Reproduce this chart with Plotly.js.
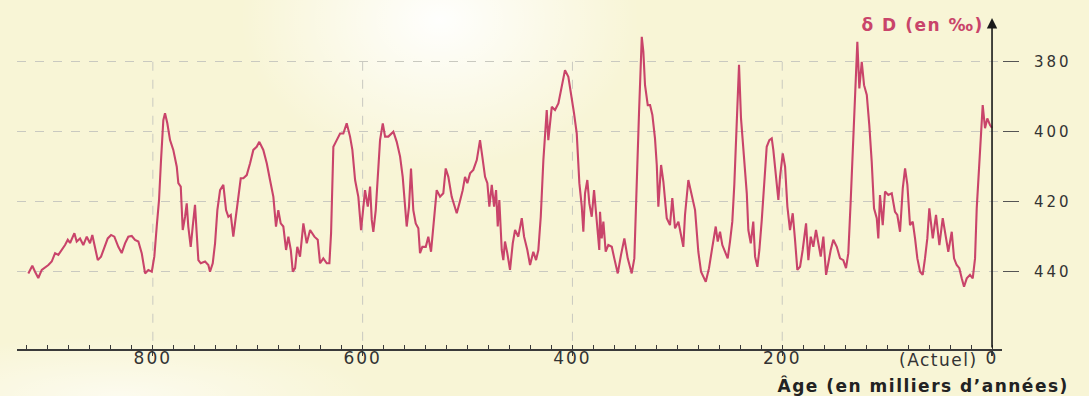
<!DOCTYPE html>
<html><head><meta charset="utf-8">
<script src="https://cdn.plot.ly/plotly-3.0.1.min.js"></script>
<style>
html,body{margin:0;padding:0;width:1089px;height:396px;overflow:hidden;}
body{background:
 radial-gradient(ellipse 200px 150px at 440px 20px, rgba(255,255,255,0.95), rgba(255,255,255,0)),
 radial-gradient(ellipse 260px 60px at 120px 396px, rgba(255,255,255,0.6), rgba(255,255,255,0)),
 #f8f5d6;}
#chart{width:1089px;height:396px;}
.xtick text{letter-spacing:2px;}
.ytick text{letter-spacing:3px;}
.annotation text{letter-spacing:1.5px;}
</style></head>
<body><div id="chart"></div>
<script>
// Age (thousands of years before present) and deltaD (per mil, shown without sign as in the figure)
const ageKyr=[918.7,914.9,912.3,909.2,905.9,902.8,899.6,896.4,893.2,890.1,886.8,883.7,881.1,878.9,874.8,872.6,869.4,866.3,863,859.9,857.7,855.1,852.5,849.4,846.2,843,839.8,836.7,832.9,829.7,826.5,823.4,820.1,817,813.8,810.6,807.4,804.3,801,798.6,796.3,794.1,792.2,790,
788.4,786.2,783.6,780.5,777.2,775.7,773.4,771.5,769.3,767.7,766.2,763.9,762,759.8,758.2,756.6,754.3,750.2,747.1,745.5,742.9,740.7,738.5,735.9,732.8,730.2,728,725.7,723.3,720.7,718.5,716.2,713.7,710.5,707.3,704.2,701,698.5,694.7,691.4,688.3,685.1,682.6,680.4,678.1,675.6,673,670.8,668.5,666.6,664.4,662.3,659.7,656.5,653.3,650.1,
646,642.8,640.6,637.5,634.2,631.7,630.1,627.9,624.7,621.5,618.4,615.2,612,609.8,607.2,604.1,601.5,599.3,597.7,595.1,592.9,591.3,589.8,587.5,585,583.4,580.8,578.6,575.5,570.7,567.5,564.3,561.8,559.6,558,555.8,553.9,551.7,549.4,546.9,545.3,543.1,539.8,537.4,534.8,532.6,529.4,526.2,523.1,520.8,518.3,515.1,
510.3,507.8,504.6,502.4,500.2,497.6,494.5,491.2,488.1,485.9,483.3,481.1,479.2,476.9,474.7,472.8,471.2,469.7,467.4,465.9,464.3,462.1,459.5,456.9,454.7,451.6,448.3,446.1,443,440.4,437.3,434.7,432.5,430.2,427.7,424.5,423,419.7,416.6,413.4,410.2,407.1,403.9,400.7,398.5,395.9,393.4,391.1,389.6,388,385.8,383.9,381.6,379.4,376.8,374.4,
373.7,372.1,370.5,368.3,365.8,362.5,360.1,356.8,353.7,350.5,347.3,343.5,341,338.7,336.5,333.9,332.4,330.8,328.2,326,323.8,321.3,319.6,318.1,315.5,313.3,311.7,310.1,307,304.8,302.2,299,296.5,294.3,292.7,289.5,286.3,283.1,280,277.4,272.9,269.8,266.6,263.4,261.5,259.3,257.1,254.5,252,249.8,247.6,245.7,243.4,241.2,239.3,237.1,
236.4,233.8,232.3,230,227.6,225.9,223.7,221.8,219.5,217.4,214.8,212.3,210,208.5,205.9,203.7,202.1,199.5,197.3,195.1,192.6,190,187.8,185.6,183,180.5,177.3,175.1,172.8,170.4,167.8,165.6,163.3,160.8,158.2,156.1,153.8,151.3,148,144.9,141.8,139.2,137,134.7,132.2,129.6,
128.4,126.5,124.2,122,119.4,117,114.7,112.5,109.9,108.4,106.8,104.2,102,98.9,95.6,92.5,90.3,87.7,85.1,82.9,80.7,78.2,75.6,73.4,71.2,68.6,66.1,63.9,61.7,59.8,56.5,53.4,50.2,47,43.9,41.7,38.4,36.2,33.7,31.2,28.9,26.7,24.1,21,18.4,16.2,14.6,12.1,8.9,6.7,4.5,1.9,0];

const deltaD=[440.5,438.3,440,441.8,439.5,438.9,438.1,437.1,434.7,435.2,433.8,432.4,430.9,431.8,429,431.4,430.5,432.4,430,431.9,429.5,432.9,436.7,435.7,432.9,430.5,429.5,430,432.9,434.7,431.9,430,429.8,430.9,431.4,434.7,440.5,439.5,440,435.7,427.1,419.5,408.1,396.7,
394.7,397.6,402.4,405.2,410,414.7,415.7,428.1,424.3,420.5,427.1,432.9,427.1,420.9,429,436.7,437.6,437.1,438.1,440,437.6,431.9,422.4,416.7,415.2,422.4,424.3,423.8,430,424.3,418.6,413.3,413.3,412.4,409,405.2,404.3,402.9,405.2,409,413.8,418.6,427.1,422.4,426.2,427.1,433.8,430,433.8,440,439,432.9,435.7,426.2,431.9,428.1,
430,430.9,437.6,436.2,437.6,437.6,429,404.3,402.4,400.5,400.5,397.6,401.4,405.2,413.8,418.6,428.1,422.4,416.7,421.4,415.7,425.2,428.6,422.4,410,402.4,397.6,401.4,401.4,400,402.9,407.1,412.9,421.4,427.1,421.4,410.5,422.4,426.2,427.6,434.7,432.9,432.9,430,434.3,427.1,416.7,418.6,417.6,410.5,412.9,418.6,
423.3,420.5,416.7,412.9,414.7,411.9,410.9,408.1,402.4,407.1,412.9,414.7,421.4,415.2,421.4,416.7,427.1,419.5,433.8,436.7,431.4,434.7,439.5,431.9,428.1,430,424.7,430,433.8,438.1,434.3,436.7,433.8,424.3,408.1,393.8,402.4,392.9,393.8,391.9,387.1,382.4,384.3,390,394.7,400.5,414.7,421.4,428.6,417.6,413.8,420.5,424.3,416.7,427.1,433.8,
422.9,430.5,425.7,434.3,432.4,432.9,436.2,440.5,435.2,430.5,436.2,440.5,436.2,412.4,394.3,372.9,377.1,386.7,392.4,392.4,395.2,401.9,409.5,421.4,409.5,414.3,420.9,424.7,426.7,419,427.6,425.7,429.5,432.9,423.8,413.8,418.1,422.4,434.3,440,442.9,439,432.9,427.1,431.4,428.6,432.4,434.3,436.2,431.4,425.7,415.2,398.1,380.9,396.2,405.7,
409,417.6,428.1,431.9,425.7,435.7,438.6,433.8,425.2,414.7,404.3,402.4,401.9,405.2,412.9,419.5,412.9,406.2,410,421.4,428.1,423.3,430.9,439.5,438.6,433.8,426.2,436.7,430,432.9,428.1,431.9,435.7,430,440.9,437.6,433.8,430.9,432.9,436.2,436.7,439,434.7,419.5,401.4,384.3,
374.3,387.6,380,386.7,389.5,398.1,408.6,421.9,424.7,430.5,418.1,426.7,417.1,418.1,417.6,422.9,423.8,428.6,416.2,410.5,415.2,426.7,425.7,430.5,436.2,440,440.9,436.2,430.5,421.9,430.5,423.8,432.4,424.7,430.5,434.3,428.6,436.2,438.1,439,441.9,444.3,441.9,440.9,441.9,436.2,421.9,407.6,392.4,399,396.2,398.1,398.9];

const xTickVals=[800,600,400,200,0];
const xTickText=['800','600','400','200','0'];
const xGridVals=[800,600,400,200];
const yTickVals=[380,400,420,440];
const yTickText=['380','400','420','440'];
const xRange=[929.5,-9.5];
const yRange=[462.1,367.5];

const lineColor='#c9446a';
const gridColor='#c9c9c0';
const axisColor='#3a3a3a';

const trace={x:ageKyr,y:deltaD,type:'scatter',mode:'lines',
  line:{color:lineColor,width:2.1},hoverinfo:'skip'};

const shapes=xGridVals.map(v=>({type:'line',xref:'x',yref:'y',x0:v,x1:v,y0:yTickVals[0],y1:yRange[0],
  line:{color:gridColor,width:1,dash:'dash'},layer:'below'}));

const annotations=[
  {xref:'x',yref:'y',axref:'x',ayref:'y',x:0,y:yRange[1],ax:0,ay:yRange[0],text:'',showarrow:true,
   arrowhead:2,arrowsize:1.3,arrowwidth:1.6,arrowcolor:'#1a1a1a',standoff:0,startstandoff:0},
  {xref:'paper',yref:'paper',x:0.976,y:0.979,xanchor:'right',yanchor:'middle',showarrow:false,
   text:'δ D (en ‰)',font:{family:'DejaVu Sans',size:17,color:lineColor,weight:'bold'}},
  {xref:'paper',yref:'paper',x:1.05,y:-0.11,xanchor:'right',yanchor:'middle',showarrow:false,
   text:'Âge (en milliers d’années)',font:{family:'DejaVu Sans',size:17,color:'#222',weight:'bold'}},
  {xref:'x',yref:'paper',x:0,y:-0.033,xanchor:'right',yanchor:'middle',xshift:-18,showarrow:false,
   text:'(Actuel)',font:{family:'DejaVu Sans',size:17,color:'#333'}}
];

const layout={
  width:1089,height:396,
  margin:{l:17,r:87,t:18,b:47},
  paper_bgcolor:'rgba(0,0,0,0)',plot_bgcolor:'rgba(0,0,0,0)',
  showlegend:false,
  xaxis:{range:xRange,tickmode:'array',tickvals:xTickVals,ticktext:xTickText,
    ticks:'outside',ticklen:5,tickwidth:1.3,tickcolor:axisColor,ticklabelstandoff:-12,
    showline:true,linecolor:axisColor,linewidth:1.5,showgrid:false,zeroline:false,
    minor:{tickmode:'linear',tick0:0,dtick:20,ticks:'inside',ticklen:4,tickwidth:1,tickcolor:axisColor,showgrid:false},
    tickfont:{family:'DejaVu Sans',size:17,color:'#333'},fixedrange:true},
  yaxis:{range:yRange,side:'right',tickmode:'array',tickvals:yTickVals,ticktext:yTickText,
    ticks:'outside',ticklen:16,tickwidth:1.5,tickcolor:'#555',ticklabelstandoff:12,
    showline:false,zeroline:false,showgrid:true,gridcolor:gridColor,griddash:'dash',gridwidth:1,
    tickfont:{family:'DejaVu Sans',size:15,color:'#333'},fixedrange:true},
  shapes:shapes,annotations:annotations
};

Plotly.newPlot('chart',[trace],layout,{displayModeBar:false,staticPlot:true});
</script>
</body></html>
